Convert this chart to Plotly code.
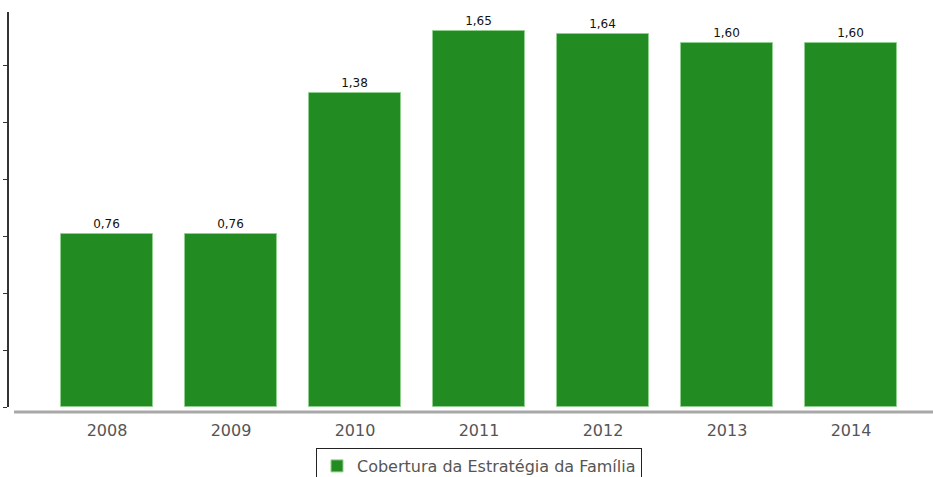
import plotly.graph_objects as go

years = ["2008", "2009", "2010", "2011", "2012", "2013", "2014"]
coverage = [0.76, 0.76, 1.38, 1.65, 1.64, 1.60, 1.60]
series_name = "Cobertura da Estratégia da Família"
y_ticks = [0, 0.25, 0.5, 0.75, 1.0, 1.25, 1.5]

W, H = 933, 477
L, R, T, B = 9, 0, 12, 70
pw = W - L - R
ph = H - T - B

fig = go.Figure()
fig.add_trace(go.Bar(
    x=list(range(len(years))), y=coverage, name=series_name,
    width=0.742,
    marker=dict(color="#228B22", line=dict(color="#8fd08f", width=1)),
    texttemplate="%{y:.2f}", textposition="outside",
    textfont=dict(family="DejaVu Sans", size=12, color="#111111"),
    cliponaxis=False, showlegend=True,
))

x0 = -98 / 124
fig.update_layout(
    width=W, height=H,
    margin=dict(l=L, r=R, t=T, b=B, pad=0, autoexpand=False),
    paper_bgcolor="white", plot_bgcolor="white",
    separators=",.",
    bargap=0,
    showlegend=True,
    legend=dict(
        orientation="h", x=(479 - L) / pw, xanchor="center",
        y=-41 / ph, yanchor="top",
        bordercolor="#222222", borderwidth=1,
        font=dict(family="DejaVu Sans", size=16, color="#555555"),
        itemwidth=30,
    ),
    xaxis=dict(
        range=[x0, x0 + pw / 124], automargin=False,
        tickmode="array", tickvals=list(range(len(years))), ticktext=years,
        tickfont=dict(family="DejaVu Sans", size=16, color="#555555"),
        showgrid=False, zeroline=False, showline=False, ticks="",
        ticklabelstandoff=12,
    ),
    yaxis=dict(
        range=[0, 1.735], automargin=False,
        tickmode="array", tickvals=y_ticks, showticklabels=False,
        ticks="outside", ticklen=4, tickcolor="#333333", tickwidth=1,
        showline=True, linecolor="#333333", linewidth=1.5,
        showgrid=False, zeroline=False,
    ),
    shapes=[dict(
        type="line", xref="paper", yref="paper",
        x0=(14 - L) / pw, x1=1, y0=-5 / ph, y1=-5 / ph,
        line=dict(color="#a8a8a8", width=3),
    )],
)

fig.write_html(
    "out.html",
    config={"displayModeBar": False},
    post_script="document.body.style.margin='0';document.body.style.overflow='hidden';",
)
